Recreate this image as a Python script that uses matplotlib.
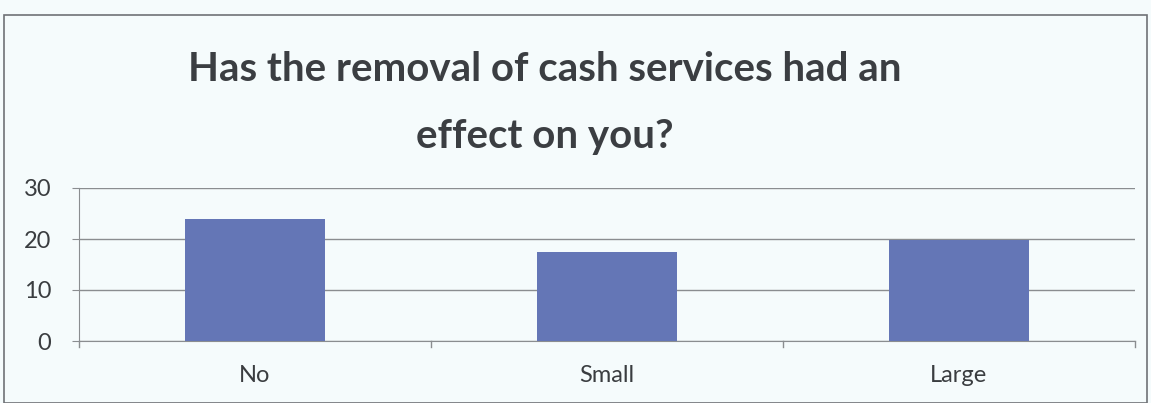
import matplotlib.pyplot as plt
from matplotlib.patches import Rectangle

categories = ["No", "Small", "Large"]
counts = [24, 17.4, 19.8]
y_ticks = [0, 10, 20, 30]
title_lines = ["Has the removal of cash services had an", "effect on you?"]

bg = "#f5fbfc"
bar_color = "#6476b6"
grid_color = "#8a8d90"
text_color = "#3a3d40"
font = "Lato"

fig = plt.figure(figsize=(11.51, 4.03), dpi=100, facecolor=bg)
W, H = 1151, 403

# chart area border
fig.patches.append(Rectangle((4 / W, 0), 1143 / W, (403 - 15) / H,
                             transform=fig.transFigure, fill=False,
                             edgecolor="#6f7276", linewidth=1.2))

ax = fig.add_axes([79 / W, (403 - 341) / H, (1135 - 79) / W, (341 - 188) / H])
ax.set_facecolor(bg)

x = list(range(len(categories)))
ax.bar(x, counts, width=0.4, color=bar_color, zorder=3)

ax.set_xlim(-0.5, len(categories) - 0.5)
ax.set_ylim(0, 30)
ax.set_yticks(y_ticks)
ax.set_yticklabels([str(t) for t in y_ticks], fontsize=17, color=text_color,
                   family=font)
ax.yaxis.grid(True, color=grid_color, linewidth=1, zorder=0)
ax.tick_params(axis="y", length=5, color=grid_color, pad=15)

# category labels sit between boundary tick marks
ax.set_xticks(x)
ax.set_xticklabels(categories, fontsize=17, color=text_color, family=font)
ax.tick_params(axis="x", length=0, pad=17)
for b in [-0.5, 0.5, 1.5, 2.5]:
    ax.plot([b, b], [0, -1.2], color=grid_color, linewidth=1, clip_on=False)

for side in ["top", "right"]:
    ax.spines[side].set_visible(False)
ax.spines["left"].set_color(grid_color)
ax.spines["bottom"].set_color(grid_color)

for line, base in zip(title_lines, [81, 148]):
    fig.text(545 / W, 1 - base / H, line, ha="center", va="baseline",
             fontsize=29, fontweight="bold", color="#3b3e42", family=font)

fig.savefig("out.png", dpi=100, facecolor=bg)
